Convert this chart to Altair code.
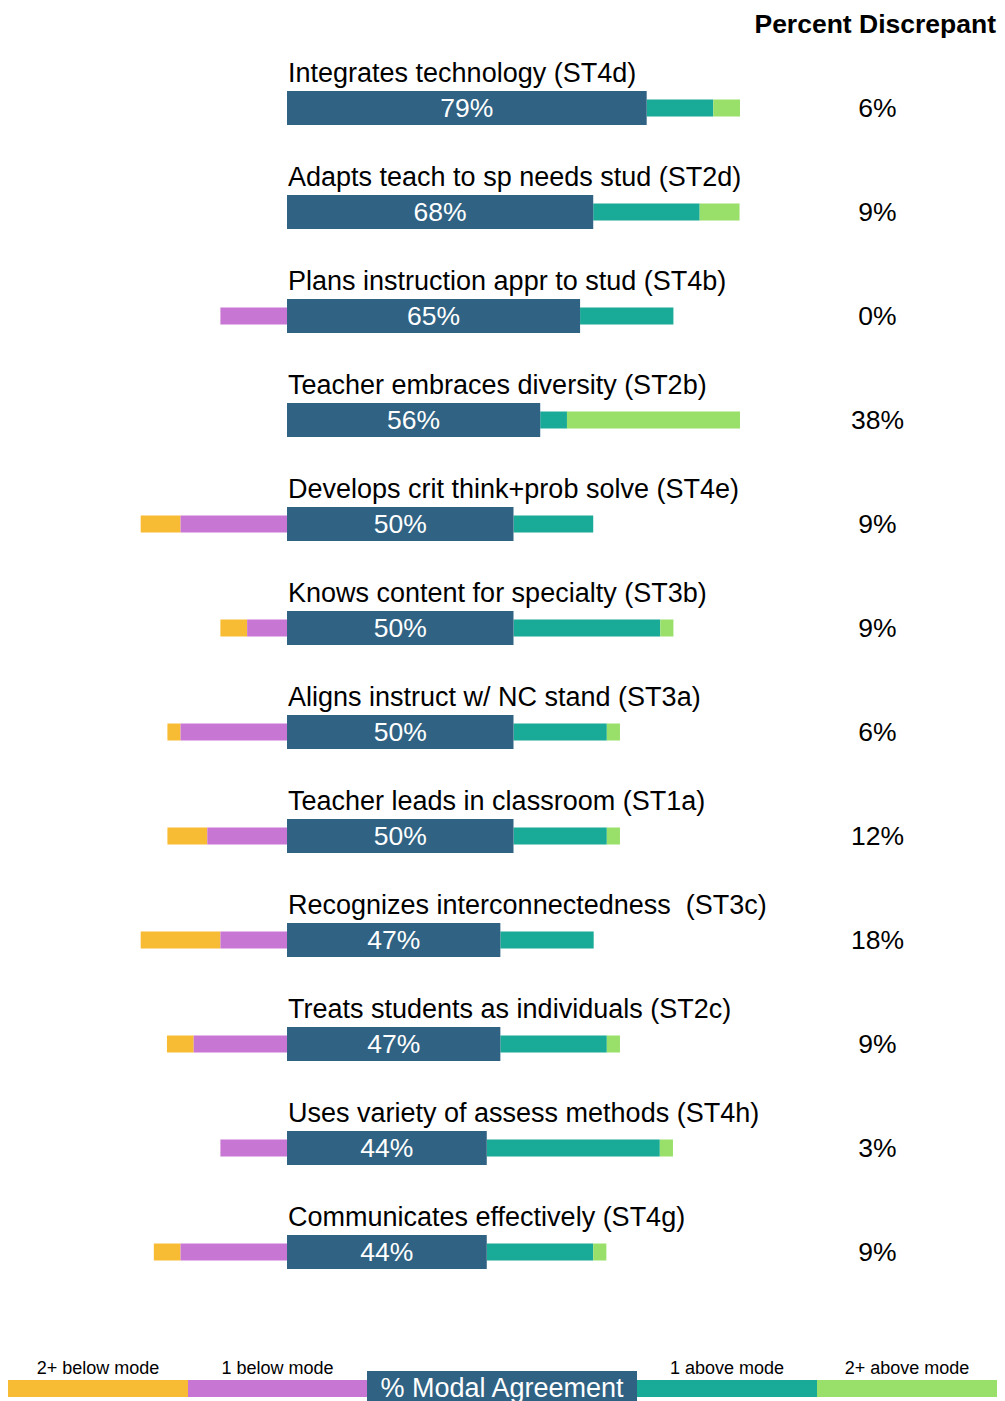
import altair as alt
import pandas as pd

categories = [
    "Integrates technology (ST4d)",
    "Adapts teach to sp needs stud (ST2d)",
    "Plans instruction appr to stud (ST4b)",
    "Teacher embraces diversity (ST2b)",
    "Develops crit think+prob solve (ST4e)",
    "Knows content for specialty (ST3b)",
    "Aligns instruct w/ NC stand (ST3a)",
    "Teacher leads in classroom (ST1a)",
    "Recognizes interconnectedness\u00a0 (ST3c)",
    "Treats students as individuals (ST2c)",
    "Uses variety of assess methods (ST4h)",
    "Communicates effectively (ST4g)",
]
modal = [79.4, 67.6, 64.7, 55.9, 50.0, 50.0, 50.0, 50.0, 47.1, 47.1, 44.1, 44.1]
below2 = [0, 0, 0, 0, 8.8, 5.9, 2.9, 8.8, 17.6, 5.9, 0, 5.9]
below1 = [0, 0, 14.7, 0, 23.5, 8.8, 23.5, 17.6, 14.7, 20.6, 14.7, 23.5]
above1 = [14.7, 23.5, 20.6, 5.9, 17.6, 32.4, 20.6, 20.6, 20.6, 23.5, 38.2, 23.5]
above2 = [5.9, 8.8, 0, 38.2, 0, 2.9, 2.9, 2.9, 0, 2.9, 2.9, 2.9]
discrepant = ["6%", "9%", "0%", "38%", "9%", "9%", "6%", "12%", "18%", "9%", "3%", "9%"]

legend_labels = ["2+ below mode", "1 below mode", "% Modal Agreement", "1 above mode", "2+ above mode"]
colors = ["#F7BC34", "#C876D4", "#2F6283", "#1AAA98", "#98E069"]

# ---- layout constants ----
W, H = 989, 1400
ZERO_PX = 279.0
PX_PER = 4.53
TOP = 100.0
STEP = 104.0

x_scale = alt.Scale(domain=[-ZERO_PX / PX_PER, (W - ZERO_PX) / PX_PER], range=[0, W],
                    nice=False, zero=False, padding=0)
y_scale = alt.Scale(domain=[-TOP / STEP, (H - TOP) / STEP], range=[0, H],
                    nice=False, zero=False, padding=0)

rows = []
for i, cat in enumerate(categories):
    m, b1, b2, a1, a2 = modal[i], below1[i], below2[i], above1[i], above2[i]
    segs = [
        ("y2", -(b1 + b2), -b1, colors[0], "side"),
        ("b1", -b1, 0, colors[1], "side"),
        ("m", 0, m, colors[2], "center"),
        ("a1", m, m + a1, colors[3], "side"),
        ("a2", m + a1, m + a1 + a2, colors[4], "side"),
    ]
    for key, s, e, c, kind in segs:
        if e - s > 0:
            rows.append({"row": i, "cat": cat, "seg": key, "start": s, "end": e, "color": c, "kind": kind})
seg_df = pd.DataFrame(rows)

lab_df = pd.DataFrame({
    "row": list(range(len(categories))),
    "cat": categories,
    "mid": [m / 2 for m in modal],
    "zero": [0] * len(categories),
    "mlabel": [f"{round(m):d}%" for m in modal],
    "disc": discrepant,
})

FONT = "Liberation Sans"

def X(field):
    return alt.X(field, type="quantitative", scale=x_scale, axis=None)

def Y():
    return alt.Y("row:Q", scale=y_scale, axis=None)

side = alt.Chart(seg_df).transform_filter("datum.kind == 'side'").mark_bar(size=17).encode(
    x=X("start"), x2="end", y=Y(), color=alt.Color("color:N", scale=None)
)
center = alt.Chart(seg_df).transform_filter("datum.kind == 'center'").mark_bar(size=34).encode(
    x=X("start"), x2="end", y=Y(), color=alt.Color("color:N", scale=None)
)
cat_text = alt.Chart(lab_df).mark_text(
    align="left", baseline="alphabetic", dy=-26, dx=1, fontSize=27, font=FONT, color="#000000"
).encode(x=X("zero"), y=Y(), text="cat:N")
m_text = alt.Chart(lab_df).mark_text(
    align="center", baseline="alphabetic", dy=8.5, fontSize=26.5, font=FONT, color="#ffffff"
).encode(x=X("mid"), y=Y(), text="mlabel:N")
d_text = alt.Chart(lab_df).mark_text(
    align="center", baseline="alphabetic", dy=8.5, fontSize=26.5, font=FONT, color="#000000"
).encode(x=alt.value(869.5), y=Y(), text="disc:N")
header = alt.Chart(pd.DataFrame({"t": ["Percent Discrepant"]})).mark_text(
    align="right", baseline="alphabetic", fontSize=26.5, fontWeight="bold", font=FONT, color="#000000"
).encode(x=alt.value(988), y=alt.value(25), text="t:N")

# ---- legend (decorative, pixel layout) ----
seg_w = [180, 179, 270, 180, 180]
edges = [0]
for w in seg_w:
    edges.append(edges[-1] + w)
leg_df = pd.DataFrame({
    "label": legend_labels,
    "color": colors,
    "x0": edges[:-1],
    "x1": edges[1:],
    "xc": [(a + b) / 2 for a, b in zip(edges[:-1], edges[1:])],
    "center": [False, False, True, False, False],
})
LX = lambda f: alt.X(f, type="quantitative", scale=None, axis=None)
leg_side = alt.Chart(leg_df).transform_filter("!datum.center").mark_rect().encode(
    x=LX("x0"), x2="x1", y=alt.value(1372), y2=alt.value(1389), color=alt.Color("color:N", scale=None)
)
leg_center = alt.Chart(leg_df).transform_filter("datum.center").mark_rect().encode(
    x=LX("x0"), x2="x1", y=alt.value(1363), y2=alt.value(1400), color=alt.Color("color:N", scale=None)
)
leg_text = alt.Chart(leg_df).transform_filter("!datum.center").mark_text(
    align="center", baseline="alphabetic", fontSize=18, font=FONT, color="#000000"
).encode(x=LX("xc"), y=alt.value(1366), text="label:N")
leg_ctext = alt.Chart(leg_df).transform_filter("datum.center").mark_text(
    align="center", baseline="alphabetic", fontSize=27, font=FONT, color="#ffffff"
).encode(x=LX("xc"), y=alt.value(1389), text="label:N")

chart = alt.layer(
    side, center, cat_text, m_text, d_text, header, leg_side, leg_center, leg_text, leg_ctext
).resolve_scale(x="independent", y="independent").properties(
    width=W, height=H, padding=0, autosize=alt.AutoSizeParams(type="none")
).configure_view(stroke=None)

chart.save("out.html", embed_options={"renderer": "svg", "actions": False})
